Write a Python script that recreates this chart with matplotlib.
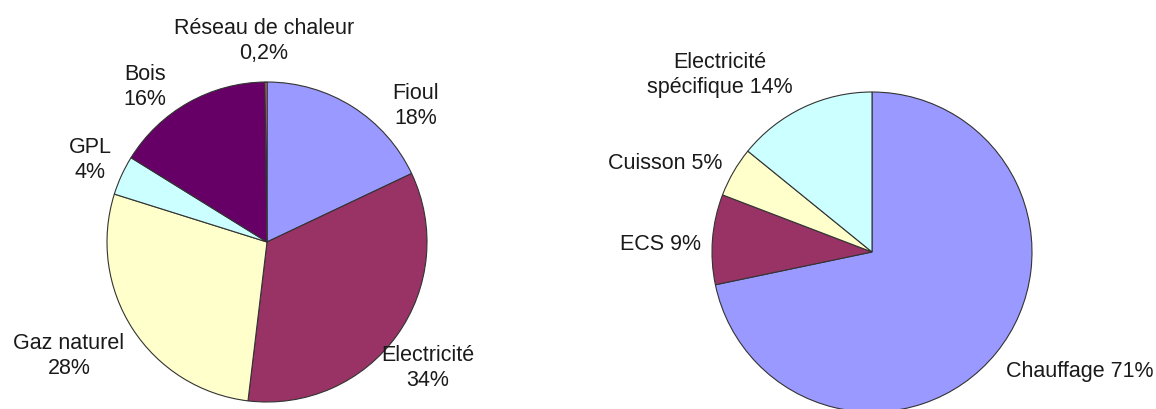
import matplotlib.pyplot as plt

plt.rcParams['font.family'] = ['Liberation Sans', 'DejaVu Sans']

# Data
left_labels = ['Fioul\n18%', 'Electricité\n34%', 'Gaz naturel\n28%', 'GPL\n4%', 'Bois\n16%', 'Réseau de chaleur\n0,2%']
left_values = [18, 34, 28, 4, 16, 0.2]
left_colors = ['#9999FF', '#993366', '#FFFFCC', '#CCFFFF', '#660066', '#FF8080']

right_labels = ['Chauffage 71%', 'ECS 9%', 'Cuisson 5%', 'Electricité\nspécifique 14%']
right_values = [71, 9, 5, 14]
right_colors = ['#9999FF', '#993366', '#FFFFCC', '#CCFFFF']

# label positions in pixels (x, y from top)
left_label_pos = [(416, 106), (428, 368), (69, 356), (90, 160), (145, 87), (264, 41)]
right_label_pos = [(1080, 372), (660, 245), (665, 164), (720, 75)]

W, H = 1156, 410
fig = plt.figure(figsize=(W / 100, H / 100), dpi=100)
ax = fig.add_axes([0, 0, 1, 1])

wedge_style = dict(edgecolor='#333333', linewidth=0.8)
ax.pie(left_values, colors=left_colors, startangle=90, counterclock=False,
       center=(267, H - 243), radius=160, wedgeprops=wedge_style, frame=True)
ax.pie(right_values, colors=right_colors, startangle=90, counterclock=False,
       center=(872, H - 253), radius=160, wedgeprops=wedge_style, frame=True)

for text, (x, y) in zip(left_labels + right_labels, left_label_pos + right_label_pos):
    ax.text(x, H - y, text, ha='center', va='center', fontsize=15.5,
            color='#1a1a1a', linespacing=1.2)

ax.set_xlim(0, W)
ax.set_ylim(0, H)
ax.set_aspect('equal')
ax.axis('off')

plt.savefig('out.png', dpi=100)
